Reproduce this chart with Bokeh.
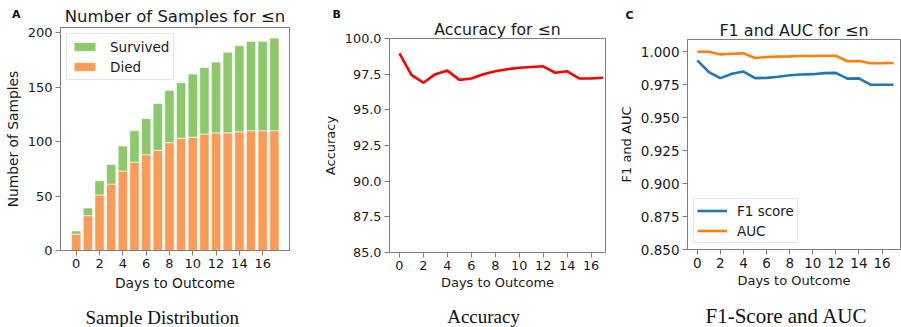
from bokeh.plotting import figure
from bokeh.layouts import row, column
from bokeh.models import (ColumnDataSource, Range1d, FixedTicker, Legend, Div,
                          LegendItem, NumeralTickFormatter, Title)
from bokeh.embed import file_html
from bokeh.resources import INLINE

days = list(range(18))
died = [15, 32, 51, 61, 73, 81, 88, 92, 99, 103, 104, 107, 108, 108, 109, 110, 110, 110]
total = [18, 39, 64, 79, 96, 110, 121, 135, 147, 154, 162, 168, 173, 182, 188, 192, 192, 195]
survived = [t - d for t, d in zip(total, died)]
accuracy = [98.95, 97.45, 96.9, 97.5, 97.75, 97.1, 97.2, 97.5, 97.7, 97.85, 97.95, 98.0,
            98.05, 97.6, 97.7, 97.2, 97.2, 97.25]
f1 = [0.9935, 0.9845, 0.9800, 0.9833, 0.9850, 0.9800, 0.9802, 0.9810, 0.9822, 0.9828,
      0.9830, 0.9838, 0.9840, 0.9796, 0.9798, 0.9750, 0.9750, 0.9750]
auc = [1.0000, 1.0000, 0.9980, 0.9985, 0.9988, 0.9953, 0.9960, 0.9963, 0.9965, 0.9968,
       0.9968, 0.9970, 0.9970, 0.9928, 0.9930, 0.9913, 0.9913, 0.9915]

x_ticks = [0, 2, 4, 6, 8, 10, 12, 14, 16]
FONT = "DejaVu Sans"
SERIF = "Liberation Serif"
FRAME = "#7f7f7f"
TXT = "#1a1a1a"


def style(p, tick_px, label_px, xlabel_standoff=4):
    p.frame_align = False
    p.outline_line_color = FRAME
    p.outline_line_width = 1
    p.grid.visible = False
    for ax in (p.xaxis[0], p.yaxis[0]):
        ax.axis_line_color = FRAME
        ax.major_tick_line_color = FRAME
        ax.major_tick_out = 5
        ax.major_tick_in = 0
        ax.minor_tick_line_color = None
        ax.major_label_text_font = FONT
        ax.major_label_text_font_size = tick_px
        ax.major_label_text_color = TXT
        ax.axis_label_text_font = FONT
        ax.axis_label_text_font_size = label_px
        ax.axis_label_text_font_style = "normal"
        ax.axis_label_text_color = TXT
        ax.major_label_standoff = 3
        ax.axis_label_standoff = 4
    p.xaxis.axis_label_standoff = xlabel_standoff
    p.xaxis.ticker = FixedTicker(ticks=x_ticks)


def caption(p, text, offset, gap, size="19px"):
    # thin blank spacer between the axis and the caption
    p.add_layout(Title(text=" ", standoff=gap, text_font_size="2px"), "below")
    p.add_layout(Title(text=text, align="left", offset=offset, standoff=0,
                       text_font=SERIF, text_font_size=size, text_font_style="normal",
                       text_color="#111111"), "below")


def main_title(p, text, size, standoff):
    p.add_layout(Title(text=text, align="center", standoff=standoff,
                       text_font=FONT, text_font_size=size, text_font_style="normal",
                       text_color=TXT), "above")


def letter(p, text, offset, standoff):
    p.title.text = text
    p.title.align = "left"
    p.title.offset = offset
    p.title.standoff = standoff
    p.title.text_font = FONT
    p.title.text_font_size = "11px"
    p.title.text_font_style = "bold"
    p.title.text_color = "#111111"


# ---------------- Panel A ----------------
pa = figure(width=300, height=327, output_backend="svg", toolbar_location=None,
            x_range=Range1d(-1.35, 18.3), y_range=Range1d(0, 204.75),
            min_border_left=60, min_border_right=11, min_border_top=27, min_border_bottom=77)
src = ColumnDataSource(dict(x=days, died=died, survived=survived, total=total))
r_died = pa.vbar(x="x", top="died", bottom=0, width=0.8, source=src,
                 fill_color="#fa9b58", line_color="white", line_width=0.6)
r_surv = pa.vbar(x="x", top="total", bottom="died", width=0.8, source=src,
                 fill_color="#8cc96b", line_color="white", line_width=0.6)
style(pa, "13px", "13.8px")
main_title(pa, "Number of Samples for \u2264n", "16.5px", 4)
pa.yaxis.ticker = FixedTicker(ticks=[0, 50, 100, 150, 200])
pa.xaxis.axis_label = "Days to Outcome"
pa.yaxis.axis_label = "Number of Samples"
leg_a = Legend(items=[LegendItem(label="Survived", renderers=[r_surv]),
                      LegendItem(label="Died", renderers=[r_died])],
               location="top_left", margin=6, padding=4, spacing=3,
               glyph_width=27, glyph_height=11, label_height=17, label_standoff=12,
               label_text_font=FONT, label_text_font_size="13.5px", label_text_color=TXT,
               border_line_color="#cccccc", border_line_width=1,
               background_fill_alpha=0.8)
pa.add_layout(leg_a)
caption(pa, "Sample Distribution", 25, 7)

# ---------------- Panel B ----------------
pb = figure(width=310, height=327, output_backend="svg", toolbar_location=None,
            x_range=Range1d(-0.83, 17.2), y_range=Range1d(85, 100),
            min_border_left=89, min_border_right=5, min_border_top=38, min_border_bottom=75)
pb.line(days, accuracy, line_color="red", line_width=2.6)
style(pb, "12.8px", "13px", xlabel_standoff=2)
main_title(pb, "Accuracy for \u2264n", "15.7px", 0)
letter(pb, "B", -57, -6)
pb.yaxis.ticker = FixedTicker(ticks=[85, 87.5, 90, 92.5, 95, 97.5, 100])
pb.yaxis.formatter = NumeralTickFormatter(format="0.0")
pb.xaxis.axis_label = "Days to Outcome"
pb.yaxis.axis_label = "Accuracy"
caption(pb, "Accuracy", 57.7, 7)

# ---------------- Panel C ----------------
pc = figure(width=291, height=327, output_backend="svg", toolbar_location=None,
            x_range=Range1d(-0.85, 17.6), y_range=Range1d(0.85, 1.0093),
            min_border_left=77, min_border_right=1, min_border_top=39, min_border_bottom=75)
r_f1 = pc.line(days, f1, line_color="#1f77b4", line_width=2.6)
r_auc = pc.line(days, auc, line_color="#ff7f0e", line_width=2.6)
style(pc, "13.5px", "13px", xlabel_standoff=2)
main_title(pc, "F1 and AUC for \u2264n", "16px", 0)
letter(pc, "C", -62, -6)
pc.yaxis.ticker = FixedTicker(ticks=[0.85, 0.875, 0.9, 0.925, 0.95, 0.975, 1.0])
pc.yaxis.formatter = NumeralTickFormatter(format="0.000")
pc.xaxis.axis_label = "Days to Outcome"
pc.yaxis.axis_label = "F1 and AUC"
leg_c = Legend(items=[LegendItem(label="F1 score", renderers=[r_f1]),
                      LegendItem(label="AUC", renderers=[r_auc])],
               location="bottom_left", margin=6, padding=3, spacing=3,
               glyph_width=30, glyph_height=17, label_height=17, label_standoff=10,
               label_text_font=FONT, label_text_font_size="13.5px", label_text_color=TXT,
               border_line_color="#cccccc", border_line_width=1,
               background_fill_alpha=0.8)
pc.add_layout(leg_c)
caption(pc, "F1-Score and AUC", 18, 7, "21px")

letter_a = Div(text="A", width=20, height=14, margin=(-319, 0, 0, 12),
               styles={"font-family": FONT, "font-size": "11px", "font-weight": "bold",
                       "color": "#111111", "line-height": "14px"})

layout = column(row(pa, pb, pc, spacing=0), letter_a, spacing=0)
open("out.html", "w").write(file_html(layout, INLINE))
